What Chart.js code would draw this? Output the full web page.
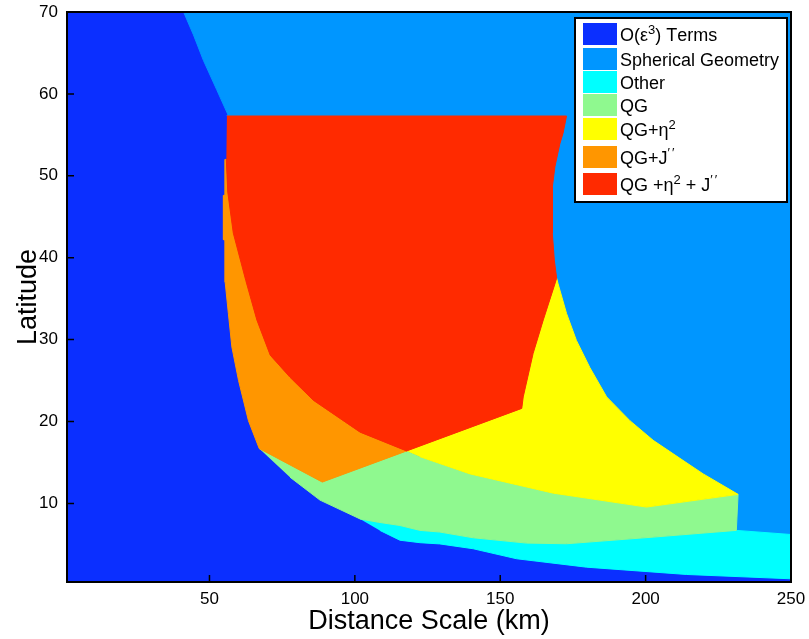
<!DOCTYPE html>
<html>
<head>
<meta charset="utf-8">
<script src="https://cdn.jsdelivr.net/npm/chart.js@4.4.1/dist/chart.umd.min.js"></script>
<style>
  html, body { margin: 0; padding: 0; background: #fff; }
</style>
</head>
<body>
<canvas id="regimeChart" width="809" height="639"></canvas>
<script>
// ====== DATA ======
const regionLabels = ['O(ε³) Terms', 'Spherical Geometry', 'Other', 'QG', 'QG+η²', 'QG+J′′', 'QG +η² + J′′'];
const regionColors = ['#0b2fff', '#0096ff', '#00ffff', '#8ff98f', '#ffff00', '#ff9600', '#ff2a00'];

const xTickValues = [50, 100, 150, 200, 250];
const yTickValues = [10, 20, 30, 40, 50, 60, 70];
const xRange = [1, 250];
const yRange = [0.4, 70];

// O(eps^3) terms: everything not covered by another regime
const termsX = [1, 250, 250, 1];
const termsY = [0.4, 0.4, 70, 70];

// Spherical geometry
const sphX = [41.1, 44.5, 47.9, 52.5, 56.3, 56.0, 172.8, 171.6, 170.5, 168.8, 167.9, 167.9, 168.6, 169.4, 169.9, 172.8, 176.2, 180.8, 186.6, 194.6, 202.6, 211.8, 219.8, 231.8, 231.2, 250, 250];
const sphY = [70, 67.2, 64.1, 60.5, 57.5, 57.3, 57.3, 55.2, 53.9, 51.1, 48.6, 43.0, 39.7, 37.5, 36.8, 33.2, 29.9, 26.6, 23.0, 20.1, 17.7, 15.5, 13.6, 11.1, 6.7, 6.2, 70];

// Other
const otherX = [101.8, 108, 115.5, 122.4, 129.2, 140.7, 159.1, 172.8, 202.6, 231.2, 250, 250, 214, 179.7, 155.6, 140.7, 129.2, 122.4, 115.5, 108.6];
const otherY = [8.1, 7.7, 7.3, 6.7, 6.5, 5.8, 5.15, 5.07, 5.88, 6.7, 6.2, 0.79, 1.32, 2.21, 3.24, 4.46, 5.05, 5.2, 5.5, 6.7];

// QG
const qgX = [67.1, 88.8, 117.8, 122.4, 139.6, 168.2, 200.3, 231.8, 231.2, 202.6, 172.8, 159.1, 140.7, 129.2, 122.4, 115.5, 108, 101.8, 88, 77.7];
const qgY = [16.7, 12.6, 16.4, 15.7, 13.6, 11.25, 9.55, 11.1, 6.7, 5.88, 5.07, 5.15, 5.8, 6.5, 6.7, 7.3, 7.7, 8.1, 10.4, 13.2];

// QG + eta^2
const etaX = [117.8, 157.4, 157.9, 161.3, 164.8, 168.8, 169.4, 169.9, 172.8, 176.2, 180.8, 186.6, 194.6, 202.6, 211.8, 219.8, 231.8, 200.3, 168.2, 139.6, 122.4];
const etaY = [16.4, 21.6, 23.0, 28.3, 32.4, 36.8, 37.5, 36.8, 33.2, 29.9, 26.6, 23.0, 20.1, 17.7, 15.5, 13.6, 11.1, 9.55, 11.25, 13.6, 15.7];

// QG + J''
const jX = [55.8, 55.4, 55.4, 54.8, 54.8, 55.4, 55.4, 56.5, 57.7, 60.0, 63.4, 67.1, 88.8, 117.8, 101.8, 85.7, 77.7, 70.9, 66.3, 62.5, 58.2, 56.3];
const jY = [52.0, 52.0, 47.7, 47.6, 42.2, 42.1, 37.0, 33.2, 29.1, 25.0, 20.1, 16.7, 12.6, 16.4, 18.7, 22.6, 25.4, 28.1, 32.4, 37.2, 43.0, 48.0];

// QG + eta^2 + J''
const bothX = [56.0, 172.8, 171.6, 170.5, 168.8, 167.9, 167.9, 168.6, 169.4, 168.8, 164.8, 161.3, 157.9, 157.4, 117.8, 101.8, 85.7, 77.7, 70.9, 66.3, 62.5, 58.2, 56.3, 55.8];
const bothY = [57.3, 57.3, 55.2, 53.9, 51.1, 48.6, 43.0, 39.7, 37.5, 36.8, 32.4, 28.3, 23.0, 21.6, 16.4, 18.7, 22.6, 25.4, 28.1, 32.4, 37.2, 43.0, 48.0, 52.0];

const regionXs = [termsX, sphX, otherX, qgX, etaX, jX, bothX];
const regionYs = [termsY, sphY, otherY, qgY, etaY, jY, bothY];

// ====== HELPERS ======
const FONT = "'Liberation Sans', Arial, Helvetica, sans-serif";
Chart.defaults.font.family = FONT;
Chart.defaults.color = '#000';

// draws a legend label, raising ², ³ and ′ like superscripts
function drawRichLabel(ctx, text, x, baseline) {
    ctx.textAlign = 'left';
    ctx.textBaseline = 'alphabetic';
    ctx.fillStyle = '#000';
    const supMap = { '²': '2', '³': '3', '′': '′' };
    for (const ch of text) {
        const sup = supMap[ch];
        if (sup) {
            ctx.font = '13px ' + FONT;
            ctx.fillText(sup, x, baseline - 7);
            x += ctx.measureText(sup).width + (ch === '′' ? 2 : 0);
        } else {
            ctx.font = '18px ' + FONT;
            ctx.fillText(ch, x, baseline);
            x += ctx.measureText(ch).width;
        }
    }
}

const frameAndLegend = {
    id: 'frameAndLegend',
    afterDatasetsDraw(chart) {
        const { ctx, chartArea: a, scales } = chart;
        ctx.save();

        // inward tick marks
        ctx.strokeStyle = '#000';
        ctx.lineWidth = 1.5;
        ctx.beginPath();
        xTickValues.forEach(v => {
            const px = scales.x.getPixelForValue(v);
            ctx.moveTo(px, a.bottom);
            ctx.lineTo(px, a.bottom - 7);
        });
        yTickValues.forEach(v => {
            const py = scales.y.getPixelForValue(v);
            ctx.moveTo(a.left, py);
            ctx.lineTo(a.left + 7, py);
        });
        ctx.stroke();

        // axes box
        ctx.lineWidth = 2;
        ctx.strokeRect(a.left, a.top, a.width, a.height);

        // legend box in the upper right corner
        const boxW = 212, boxH = 184;
        const bx = a.right - 4 - boxW, by = a.top + 6;
        ctx.fillStyle = '#fff';
        ctx.fillRect(bx, by, boxW, boxH);
        ctx.strokeRect(bx, by, boxW, boxH);

        const rowTops = [5, 30, 53, 76, 100, 128, 155];
        chart.data.datasets.forEach((ds, i) => {
            const top = by + rowTops[i];
            ctx.fillStyle = ds.backgroundColor;
            ctx.fillRect(bx + 8, top, 34, 22);
            drawRichLabel(ctx, ds.label, bx + 45, top + 17.5);
        });

        ctx.restore();
    }
};

// ====== CHART ======
const datasets = regionLabels.map((label, i) => ({
    label: label,
    data: regionXs[i].map((x, k) => ({ x: x, y: regionYs[i][k] })),
    fill: 'shape',
    backgroundColor: regionColors[i],
    borderColor: regionColors[i],
    borderWidth: 1,
    pointRadius: 0,
    tension: 0,
    order: regionLabels.length - i
}));

new Chart(document.getElementById('regimeChart'), {
    type: 'line',
    data: { datasets: datasets },
    options: {
        responsive: false,
        animation: false,
        devicePixelRatio: 1,
        events: [],
        layout: { padding: { top: 12, right: 18, bottom: 0, left: 0 } },
        plugins: {
            legend: { display: false },
            tooltip: { enabled: false }
        },
        scales: {
            x: {
                type: 'linear',
                min: xRange[0],
                max: xRange[1],
                // grid hidden, tickLength only used as label gap
                grid: { display: false, drawTicks: true, tickLength: 7 },
                border: { display: false },
                afterBuildTicks: s => { s.ticks = xTickValues.map(v => ({ value: v })); },
                ticks: { font: { size: 17 }, padding: 0, maxRotation: 0, autoSkip: false },
                title: { display: true, text: 'Distance Scale (km)', font: { size: 27 }, padding: { top: 0, bottom: 1 } },
                afterFit: s => { s.height = 57; }
            },
            y: {
                type: 'linear',
                min: yRange[0],
                max: yRange[1],
                grid: { display: false, drawTicks: true, tickLength: 9 },
                border: { display: false },
                afterBuildTicks: s => { s.ticks = yTickValues.map(v => ({ value: v })); },
                ticks: { font: { size: 17 }, padding: 0, autoSkip: false },
                title: { display: true, text: 'Latitude', font: { size: 27 }, padding: { top: 12, bottom: 0 } },
                afterFit: s => { s.width = 67; }
            }
        }
    },
    plugins: [frameAndLegend]
});
</script>
</body>
</html>
